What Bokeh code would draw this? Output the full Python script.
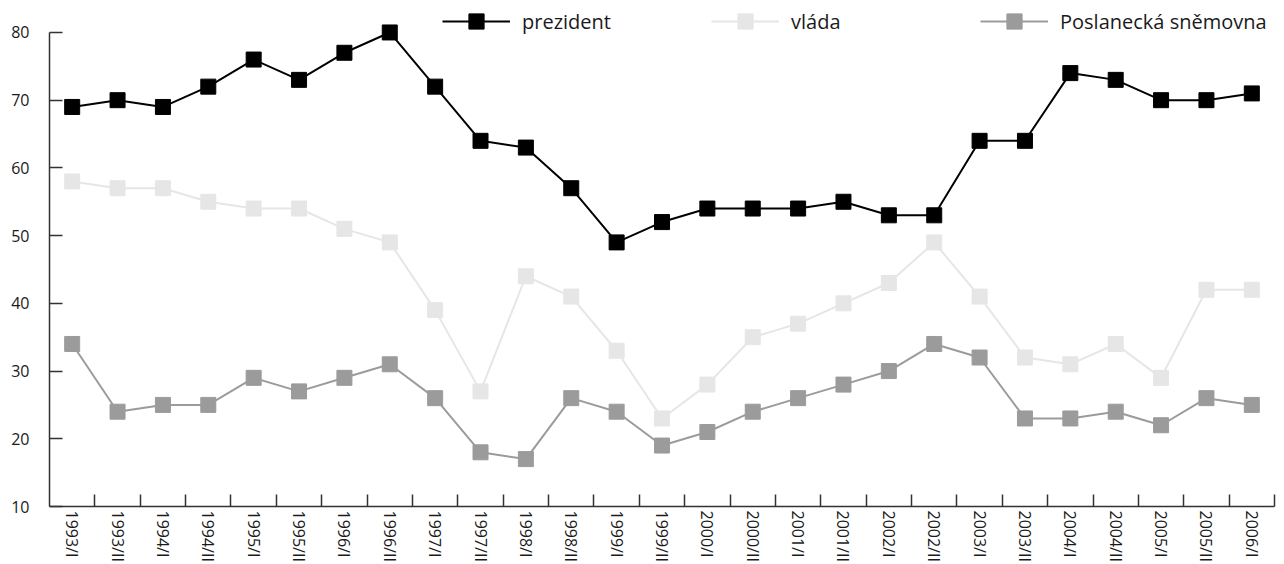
from bokeh.plotting import figure
from bokeh.models import Range1d, FixedTicker, Legend, LegendItem, ColumnDataSource
from bokeh.embed import file_html
from bokeh.resources import INLINE

periods = ["1993/I", "1993/II", "1994/I", "1994/II", "1995/I", "1995/II", "1996/I", "1996/II",
           "1997/I", "1997/II", "1998/I", "1998/II", "1999/I", "1999/II", "2000/I", "2000/II",
           "2001/I", "2001/II", "2002/I", "2002/II", "2003/I", "2003/II", "2004/I", "2004/II",
           "2005/I", "2005/II", "2006/I"]
prezident = [69, 70, 69, 72, 76, 73, 77, 80, 72, 64, 63, 57, 49, 52, 54, 54, 54, 55, 53, 53,
             64, 64, 74, 73, 70, 70, 71]
vlada = [58, 57, 57, 55, 54, 54, 51, 49, 39, 27, 44, 41, 33, 23, 28, 35, 37, 40, 43, 49,
         41, 32, 31, 34, 29, 42, 42]
snemovna = [34, 24, 25, 25, 29, 27, 29, 31, 26, 18, 17, 26, 24, 19, 21, 24, 26, 28, 30, 34,
            32, 23, 23, 24, 22, 26, 25]
series_names = ["prezident", "vláda", "Poslanecká sněmovna"]
y_ticks = [10, 20, 30, 40, 50, 60, 70, 80]

FONT = "Open Sans"
n = len(periods)
xs = [i + 0.5 for i in range(n)]
src = ColumnDataSource(dict(x=xs, prezident=prezident, vlada=vlada, snemovna=snemovna))

p = figure(width=1284, height=564, output_backend="svg", toolbar_location=None,
           x_range=Range1d(0, n), y_range=Range1d(10, 84.72),
           min_border_left=49, min_border_right=10, min_border_top=0, min_border_bottom=57)
p.outline_line_color = None
p.grid.visible = False

styles = [("prezident", "black", series_names[0]),
          ("vlada", "#e6e6e6", series_names[1]),
          ("snemovna", "#9b9b9b", series_names[2])]
renderers = []
for col, color, name in styles:
    lr = p.line("x", col, source=src, line_color=color, line_width=2)
    sr = p.scatter("x", col, source=src, marker="square", size=15,
                   fill_color=color, line_color=color)
    renderers.append((name, lr, sr))

# y axis
ya = p.yaxis[0]
ya.ticker = FixedTicker(ticks=y_ticks, minor_ticks=[])
ya.bounds = (10, 80)
ya.major_tick_in = 13
ya.major_tick_out = 0
ya.minor_tick_in = 0
ya.minor_tick_out = 0
ya.major_label_standoff = 20
ya.major_label_text_font = FONT
ya.major_label_text_font_size = "16px"
ya.major_label_text_color = "#1a1a1a"
ya.axis_line_color = "#333333"
ya.axis_line_width = 1.5
ya.major_tick_line_color = "#333333"
ya.major_tick_line_width = 1.5

# x axis
xa = p.xaxis[0]
xa.ticker = FixedTicker(ticks=xs, minor_ticks=list(range(1, n + 1)))
xa.major_label_overrides = {x: lab for x, lab in zip(xs, periods)}
xa.major_label_orientation = "vertical"
xa.major_tick_in = 0
xa.major_tick_out = 0
xa.minor_tick_in = 12
xa.minor_tick_out = 0
xa.minor_tick_line_color = "#333333"
xa.minor_tick_line_width = 1.5
xa.major_label_standoff = 4
xa.major_label_text_font = FONT
xa.major_label_text_font_size = "16px"
xa.major_label_text_color = "#1a1a1a"
xa.axis_line_color = "#333333"
xa.axis_line_width = 1.5

legend_x = [393, 662, 931]
for (name, lr, sr), lx in zip(renderers, legend_x):
    leg = Legend(items=[LegendItem(label=name, renderers=[lr, sr])],
                 location=(lx, 466), orientation="horizontal",
                 glyph_width=68, glyph_height=38, padding=0, margin=0,
                 border_line_color=None, background_fill_alpha=0,
                 label_text_font=FONT, label_text_font_size="20px",
                 label_text_color="#1a1a1a", label_standoff=12)
    p.add_layout(leg)

open("out.html", "w").write(file_html(p, INLINE))
